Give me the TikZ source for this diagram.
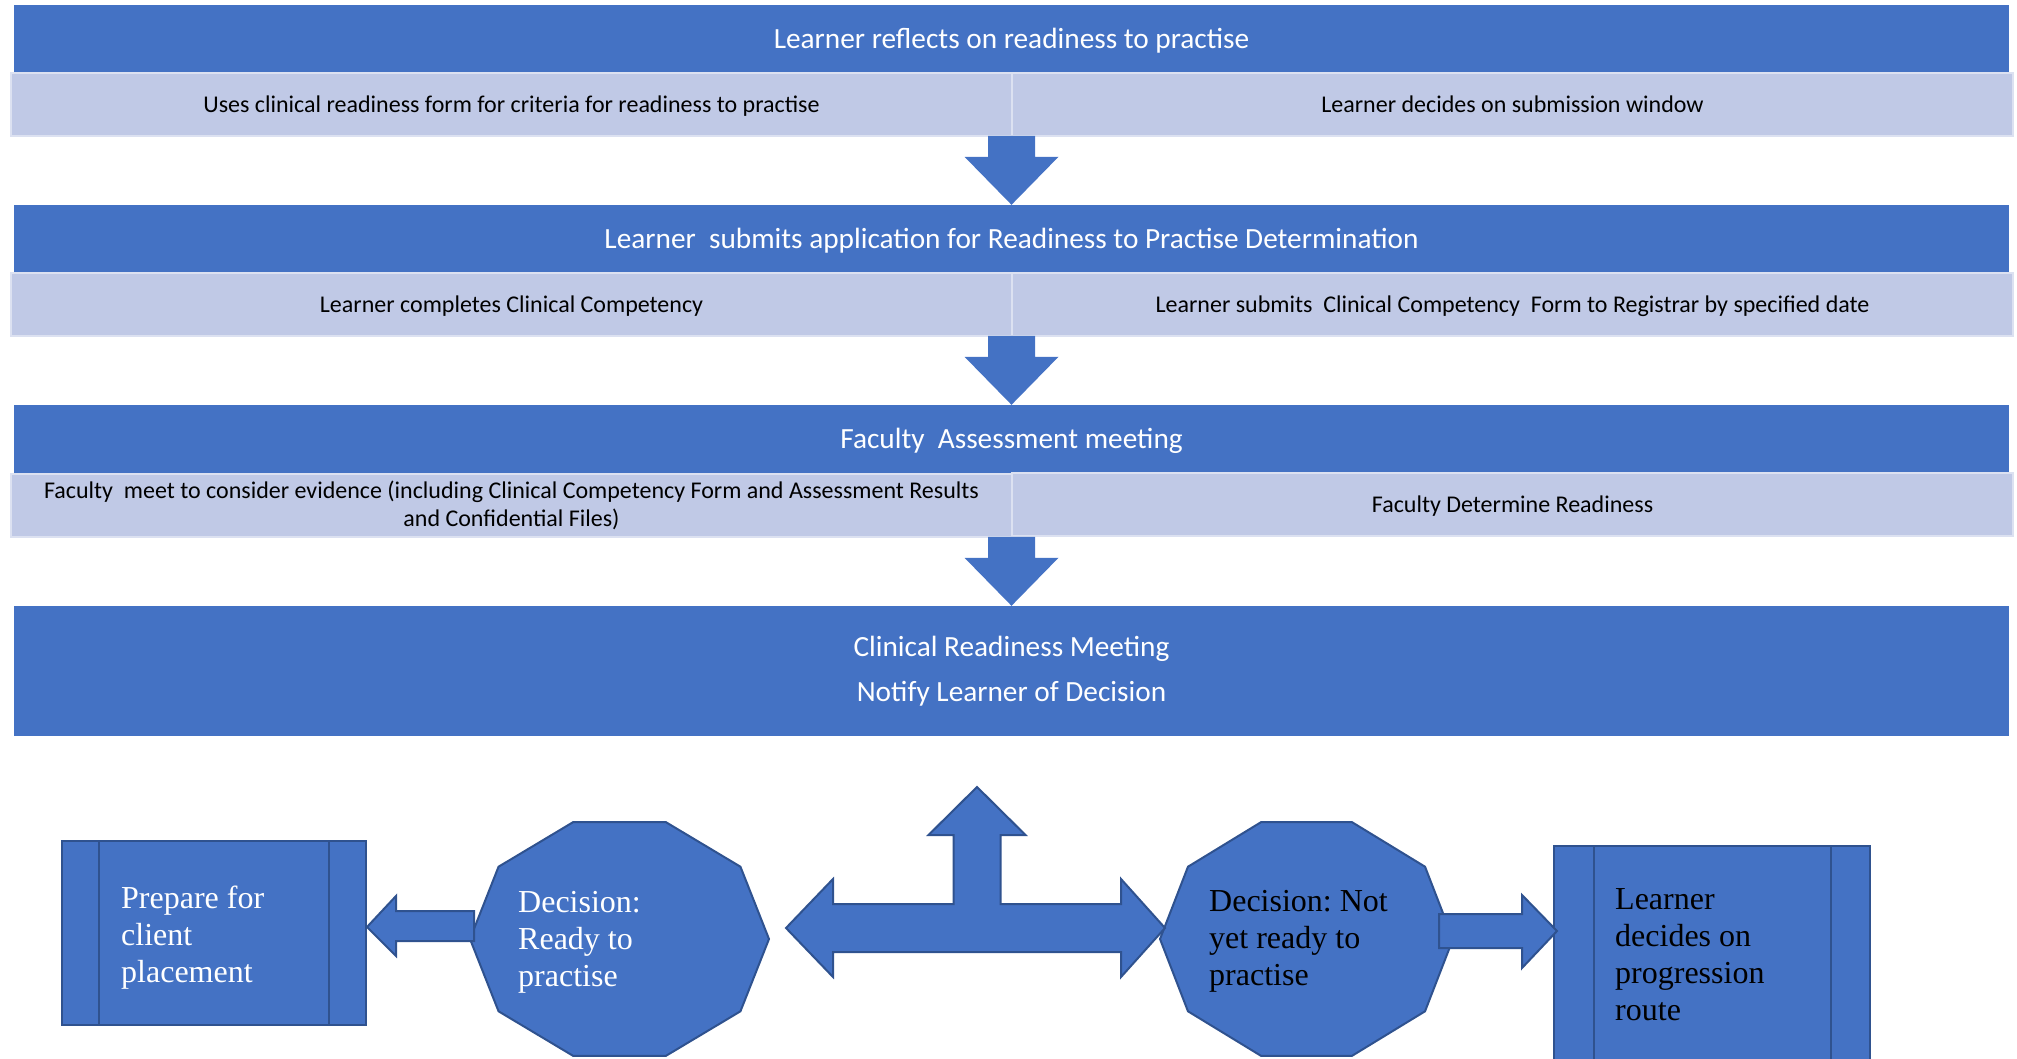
\documentclass[tikz,border=0pt]{standalone}
\usepackage{fontspec}
\setmainfont{Carlito}
\newfontfamily\boxfont{Liberation Serif}
\usetikzlibrary{calc}
\usetikzlibrary{positioning}
\definecolor{barblue}{HTML}{4472C4}
\definecolor{stripblue}{HTML}{C0C9E6}
\definecolor{edgeblue}{HTML}{2F528F}
\frenchspacing
\tikzset{
  bar/.style={fill=barblue, text=white, minimum width=1995pt, minimum height=68pt, inner sep=0pt,
    align=center, font=\fontsize{29.3}{35}\selectfont},
  barline/.style={bar, text height=23.5pt, text depth=4.4pt},
  cellbase/.style={fill=stripblue, draw=white!45!stripblue, line width=1.5pt, minimum width=1001pt,
    minimum height=63pt, inner sep=0pt, align=center, font=\fontsize{24}{28}\selectfont},
  cell/.style={cellbase, text height=19.8pt, text depth=3.6pt},
  procbox/.style={fill=barblue, draw=edgeblue, line width=2pt, inner sep=0pt},
  edgeline/.style={draw=edgeblue, line width=2pt},
  block/.style={fill=barblue, draw=edgeblue, line width=2pt, line join=miter},
  boxtext/.style={anchor=north west, inner sep=0pt, align=left, font=\boxfont\fontsize{32}{37}\selectfont}
}

\begin{document}
\begin{tikzpicture}[x=1pt,y=-1pt]
	\useasboundingbox (0,0) rectangle (2017,1059);

	\node (reflect) [barline] at (1011.5,39) {Learner reflects on readiness to practise};
	\node (form) [cell] at (511.5,104.5) {Uses clinical readiness form for criteria for readiness to practise};
	\node (window) [cell] at (1512.5,104.5) {Learner decides on submission window};

	\node (submit) [barline] at (1011.5,239) {Learner~ submits application for Readiness to Practise Determination};
	\node (complete) [cell] at (511.5,304.5) {Learner completes Clinical Competency};
	\node (registrar) [cell] at (1512.5,304.5) {Learner submits~ Clinical Competency~ Form to Registrar by specified date};

	\node (meeting) [barline] at (1011.5,439) {Faculty~ Assessment meeting};
	\node (evidence) [cellbase] at (511.5,505.5) {Faculty~ meet to consider evidence (including Clinical Competency Form and Assessment Results\\and Confidential Files)};
	\node (determine) [cell] at (1512.5,504.5) {Faculty Determine Readiness};

	\node (notify) [bar, minimum height=130pt] at (1011.5,671) {Clinical Readiness Meeting\\[10pt]Notify Learner of Decision};

	\foreach \nxt in {submit,meeting,notify}
		\fill[barblue] ($(\nxt.north)+(-23.5,-69)$) -- ++(47,0) -- ++(0,21) -- ++(23.5,0) -- (\nxt.north) -- ++(-47,-48) -- ++(23.5,0) -- cycle;

	% process boxes
	\node (prep) [procbox, minimum width=304pt, minimum height=184pt] at (214,933) {};
	\draw[edgeline] ($(prep.north west)+(38,0)$) -- ($(prep.south west)+(38,0)$);
	\draw[edgeline] ($(prep.north east)+(-38,0)$) -- ($(prep.south east)+(-38,0)$);
	\node (route) [procbox, minimum width=316pt, minimum height=234pt] at (1712,963) {};
	\draw[edgeline] ($(route.north west)+(41,0)$) -- ($(route.south west)+(41,0)$);
	\draw[edgeline] ($(route.north east)+(-40,0)$) -- ($(route.south east)+(-40,0)$);

	% decisions
	\coordinate (ready) at (619.5,939);
	\coordinate (notyet) at (1306.5,939);
	\foreach \c/\r in {ready/149.5,notyet/146.5}
		\draw[block, shift={(\c)}] (0:\r pt and 123pt) \foreach \a in {36,72,...,324} { -- (\a:\r pt and 123pt) } -- cycle;

	% block arrows
	\draw[block] ($(prep.east)+(0,-6)$) -- ++(29,-31) -- ++(0,15) -- ++(78,0) -- ++(0,30) -- ++(-78,0) -- ++(0,15) -- cycle;
	\draw[block] ($(ready)+(166.5,-11)$) -- ++(47,-49) -- ++(0,25) -- ++(120.5,0) -- ++(0,-69) -- ++(-25,0) -- ++(48.5,-48)
		-- ++(48.5,48) -- ++(-25,0) -- ++(0,69) -- ++(120.5,0) -- ++(0,-25) -- ++(44,49) -- ++(-44,49) -- ++(0,-25)
		-- ++(-288,0) -- ++(0,25) -- cycle;
	\draw[block] ($(route.north west)+(4,86)$) -- ++(-35,-36) -- ++(0,19) -- ++(-83,0) -- ++(0,34) -- ++(83,0) -- ++(0,20) -- cycle;

	\node (preptext) [boxtext, text=white] at (121,885.5) {Prepare for\\client\\placement};
	\node (readytext) [boxtext, text=white] at (518,891.5) {Decision:\\Ready to\\practise};
	\node (notyettext) [boxtext] at (1209,890.5) {Decision: Not\\yet ready to\\practise};
	\node (routetext) [boxtext] at (1615,888.5) {Learner\\decides on\\progression\\route};
\end{tikzpicture}
\end{document}
